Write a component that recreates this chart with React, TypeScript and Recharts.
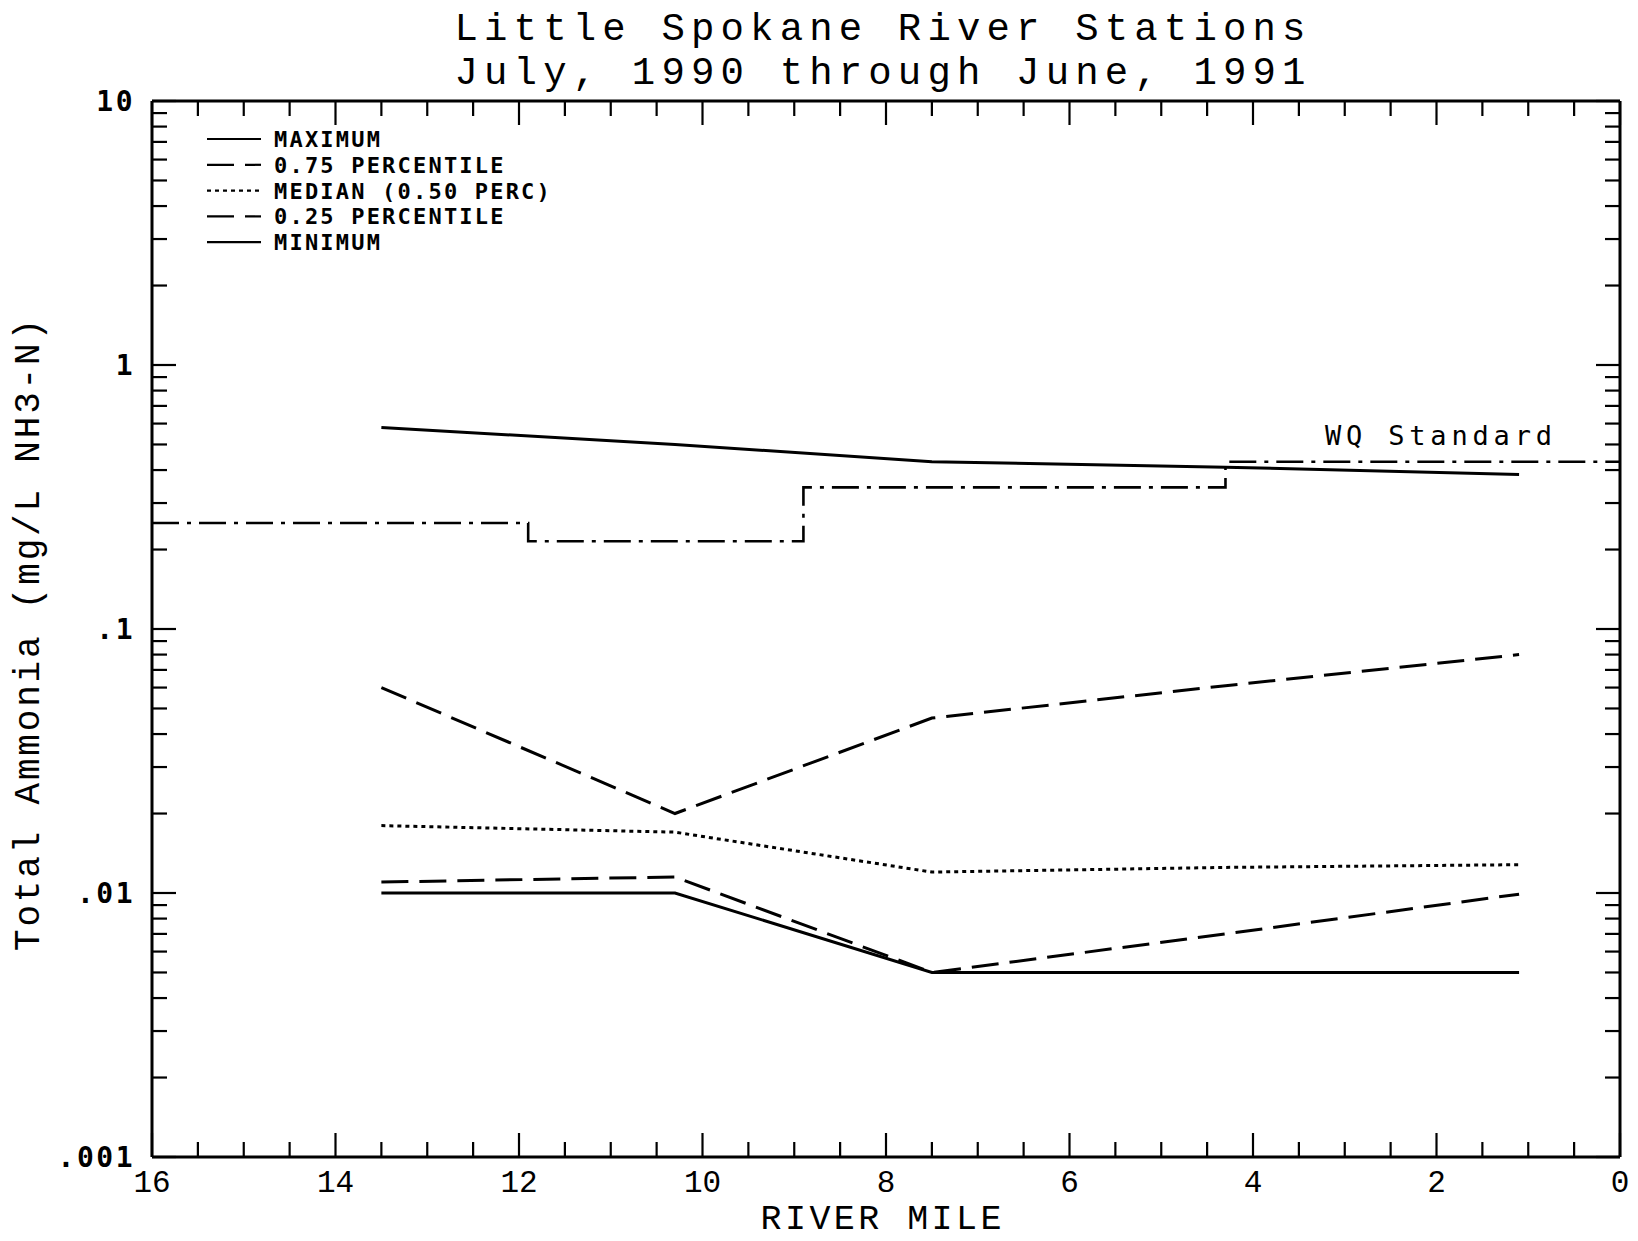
import React from 'react';
import { LineChart, Line, XAxis, YAxis } from 'recharts';

// ---------- data ----------
const stationMiles = [13.5, 10.3, 7.5, 4.3, 1.1];
const maximumValues = [0.58, 0.5, 0.43, 0.41, 0.385];
const p75Values = [0.06, 0.02, 0.046, 0.061, 0.08];
const medianValues = [0.018, 0.017, 0.012, 0.0125, 0.0128];
const p25Values = [0.011, 0.0115, 0.005, 0.007, 0.0099];
const minimumValues = [0.01, 0.01, 0.005, 0.005, 0.005];

const wqMiles = [16, 11.9, 8.9, 4.3, 0];
const wqValues = [0.252, 0.215, 0.344, 0.43, 0.43];

const xMajorTicks = [0, 2, 4, 6, 8, 10, 12, 14, 16];
const xMinorStep = 0.5;
const yMajorTicks = [0.001, 0.01, 0.1, 1, 10];
const yMajorLabels = ['.001', '.01', '.1', '1', '10'];
const yMinorMultipliers = [2, 3, 4, 5, 6, 7, 8, 9];

const titleLines = ['Little Spokane River Stations', 'July, 1990 through June, 1991'];
const xTitle = 'RIVER MILE';
const yTitle = 'Total Ammonia (mg/L NH3-N)';
const wqLabel = 'WQ Standard';

const seriesDefs = [
  { key: 'max', name: 'MAXIMUM', values: maximumValues, dash: undefined as string | undefined },
  { key: 'p75', name: '0.75 PERCENTILE', values: p75Values, dash: '27 11' },
  { key: 'med', name: 'MEDIAN (0.50 PERC)', values: medianValues, dash: '4 4' },
  { key: 'p25', name: '0.25 PERCENTILE', values: p25Values, dash: '27 11' },
  { key: 'min', name: 'MINIMUM', values: minimumValues, dash: undefined as string | undefined },
];

// tables built from the arrays
const statTable = stationMiles.map((m, i) => {
  const row: any = { mile: m };
  seriesDefs.forEach((s) => (row[s.key] = s.values[i]));
  return row;
});
const wqTable = wqMiles.map((m, i) => ({ mile: m, wq: wqValues[i] }));

const xTicks: number[] = [];
for (let v = 0; v <= 16 + 1e-9; v += xMinorStep) xTicks.push(Math.round(v * 10) / 10);
const yTicks: number[] = [];
yMajorTicks.forEach((d, i) => {
  yTicks.push(d);
  if (i < yMajorTicks.length - 1) yMinorMultipliers.forEach((k) => yTicks.push(parseFloat((d * k).toPrecision(6))));
});

const isXMajor = (v: number) => xMajorTicks.some((t) => Math.abs(t - v) < 1e-6);
const yMajorIndex = (v: number) => yMajorTicks.findIndex((t) => Math.abs(t - v) / t < 1e-6);

const MAJOR = 24;
const MINOR = 15;
const TICK_W = 2.2;

const monoThin = '"Liberation Mono", "DejaVu Sans Mono", monospace';
const monoBold = '"DejaVu Sans Mono", "Liberation Mono", monospace';

const BottomTick = (props: any) => {
  const { x, y, payload } = props;
  const v = payload.value;
  const major = isXMajor(v);
  return (
    <g>
      <line x1={x} x2={x} y1={y} y2={y - (major ? MAJOR : MINOR)} stroke="#000" strokeWidth={TICK_W} />
      {major && (
        <text x={x} y={y + 35} textAnchor="middle" fontFamily={monoThin} fontSize={31} fill="#000">
          {String(v)}
        </text>
      )}
    </g>
  );
};

const TopTick = (props: any) => {
  const { x, y, payload } = props;
  const major = isXMajor(payload.value);
  return (
    <line x1={x} x2={x} y1={y} y2={y + (major ? MAJOR : MINOR)} stroke="#000" strokeWidth={TICK_W} />
  );
};

const LeftTick = (props: any) => {
  const { x, y, payload } = props;
  const idx = yMajorIndex(payload.value);
  const major = idx >= 0;
  return (
    <g>
      <line x1={x} x2={x + (major ? MAJOR : MINOR)} y1={y} y2={y} stroke="#000" strokeWidth={TICK_W} />
      {major && (
        <text
          x={x - 17}
          y={y}
          dy="0.36em"
          textAnchor="end"
          fontFamily={monoBold}
          fontWeight="bold"
          fontSize={28}
          letterSpacing={2.5}
          fill="#000"
        >
          {yMajorLabels[idx]}
        </text>
      )}
    </g>
  );
};

const RightTick = (props: any) => {
  const { x, y, payload } = props;
  const major = yMajorIndex(payload.value) >= 0;
  return <line x1={x} x2={x - (major ? MAJOR : MINOR)} y1={y} y2={y} stroke="#000" strokeWidth={TICK_W} />;
};

const axisLine = { stroke: '#000', strokeWidth: 3 };

export default function App() {
  return (
    <div style={{ position: 'absolute', left: 0, top: 0, width: 1638, height: 1241, background: '#fff' }}>
      <LineChart width={1638} height={1241} margin={{ top: 0, right: 0, bottom: 0, left: 0 }}>
        <XAxis
          xAxisId="b"
          dataKey="mile"
          type="number"
          domain={[0, 16]}
          reversed
          ticks={xTicks}
          interval={0}
          orientation="bottom"
          height={84}
          tickSize={0}
          tickMargin={0}
          tickLine={false}
          axisLine={axisLine}
          tick={<BottomTick />}
          allowDataOverflow
        />
        <XAxis
          xAxisId="t"
          dataKey="mile"
          type="number"
          domain={[0, 16]}
          reversed
          ticks={xTicks}
          interval={0}
          orientation="top"
          height={101}
          tickSize={0}
          tickMargin={0}
          tickLine={false}
          axisLine={axisLine}
          tick={<TopTick />}
          allowDataOverflow
        />
        <YAxis
          yAxisId="l"
          type="number"
          scale="log"
          domain={[0.001, 10]}
          ticks={yTicks}
          interval={0}
          orientation="left"
          width={152}
          tickSize={0}
          tickMargin={0}
          tickLine={false}
          axisLine={axisLine}
          tick={<LeftTick />}
          allowDataOverflow
        />
        <YAxis
          yAxisId="r"
          type="number"
          scale="log"
          domain={[0.001, 10]}
          ticks={yTicks}
          interval={0}
          orientation="right"
          width={18}
          tickSize={0}
          tickMargin={0}
          tickLine={false}
          axisLine={axisLine}
          tick={<RightTick />}
          allowDataOverflow
        />
        <Line
          xAxisId="b"
          yAxisId="l"
          data={wqTable}
          dataKey="wq"
          type="stepAfter"
          stroke="#000"
          strokeWidth={2.6}
          strokeDasharray="27 8 4 8"
          dot={false}
          activeDot={false}
          isAnimationActive={false}
        />
        {seriesDefs.map((s) => (
          <Line
            key={s.key}
            xAxisId="b"
            yAxisId="l"
            data={statTable}
            dataKey={s.key}
            name={s.name}
            type="linear"
            stroke="#000"
            strokeWidth={3}
            strokeDasharray={s.dash}
            dot={false}
            activeDot={false}
            isAnimationActive={false}
          />
        ))}
      </LineChart>
      <svg
        width={1638}
        height={1241}
        style={{ position: 'absolute', left: 0, top: 0, pointerEvents: 'none' }}
      >
        {titleLines.map((t, i) => (
          <text
            key={i}
            x={880}
            y={40 + i * 44}
            textAnchor="middle"
            fontFamily={monoThin}
            fontSize={39}
            textLength={851}
            lengthAdjust="spacing"
            fill="#000"
          >
            {t}
          </text>
        ))}
        <text
          x={881}
          y={1229}
          textAnchor="middle"
          fontFamily={monoThin}
          fontSize={35}
          textLength={241}
          lengthAdjust="spacing"
          fill="#000"
        >
          {xTitle}
        </text>
        <text
          transform="translate(39,635) rotate(-90)"
          x={0}
          y={0}
          textAnchor="middle"
          fontFamily={monoThin}
          fontSize={36}
          textLength={632}
          lengthAdjust="spacing"
          fill="#000"
        >
          {yTitle}
        </text>
        <text
          x={1325}
          y={445}
          fontFamily={monoBold}
          fontSize={27}
          textLength={227}
          lengthAdjust="spacing"
          fill="#000"
        >
          {wqLabel}
        </text>
        {seriesDefs.map((s, i) => {
          const cy = 139 + i * 25.8;
          return (
            <g key={s.key}>
              <line x1={207} x2={261} y1={cy} y2={cy} stroke="#000" strokeWidth={2.2} strokeDasharray={s.dash} />
              <text
                x={274}
                y={cy}
                dy="0.36em"
                fontFamily={monoBold}
                fontWeight="bold"
                fontSize={22}
                letterSpacing={2.2}
                fill="#000"
              >
                {s.name}
              </text>
            </g>
          );
        })}
      </svg>
    </div>
  );
}
